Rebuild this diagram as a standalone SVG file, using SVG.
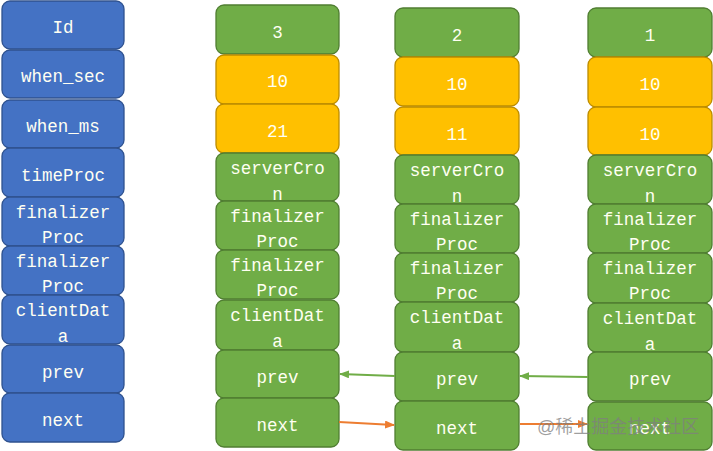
<svg xmlns="http://www.w3.org/2000/svg" width="713" height="451" viewBox="0 0 713 451">
<defs>
<style>
.b{fill:#4472C4;stroke:#2F528F;stroke-width:1.3}
.g{fill:#70AD47;stroke:#507E32;stroke-width:1.3}
.o{fill:#FFC000;stroke:#BC8C00;stroke-width:1.3}
text{font-family:"Liberation Mono","DejaVu Sans Mono",monospace;font-size:17.5px;fill:#FFFFF2;text-anchor:middle}
.ga{stroke:#70AD47;stroke-width:2;fill:none}
.oa{stroke:#ED7D31;stroke-width:2;fill:none}
.wm{font-family:"Liberation Sans","Noto Sans CJK SC",sans-serif;font-size:18px;fill:#7f7f7f;fill-opacity:0.75;text-anchor:start}
</style>
<marker id="mg" markerWidth="10" markerHeight="8" refX="9" refY="4" orient="auto" markerUnits="userSpaceOnUse"><path d="M0,0 L10,4 L0,8 Z" fill="#70AD47"/></marker>
<marker id="mo" markerWidth="10" markerHeight="8" refX="9" refY="4" orient="auto" markerUnits="userSpaceOnUse"><path d="M0,0 L10,4 L0,8 Z" fill="#ED7D31"/></marker>
</defs>
<rect width="713" height="451" fill="#FFFFFF"/>

<!-- Column 0 (blue, field names) -->
<g id="c0-id"><rect class="b" x="2" y="1" width="122" height="48" rx="8"/><text x="63" y="33">Id</text></g>
<g id="c0-when_sec"><rect class="b" x="2" y="50" width="122" height="48" rx="8"/><text x="63" y="82">when_sec</text></g>
<g id="c0-when_ms"><rect class="b" x="2" y="100" width="122" height="48" rx="8"/><text x="63" y="132">when_ms</text></g>
<g id="c0-timeProc"><rect class="b" x="2" y="148" width="122" height="49" rx="8"/><text x="63" y="181">timeProc</text></g>
<g id="c0-finalizer1"><rect class="b" x="2" y="197" width="122" height="49" rx="8"/><text x="63" y="218">finalizer</text><text x="63" y="243">Proc</text></g>
<g id="c0-finalizer2"><rect class="b" x="2" y="246" width="122" height="49" rx="8"/><text x="63" y="267">finalizer</text><text x="63" y="292">Proc</text></g>
<g id="c0-clientData"><rect class="b" x="2" y="295" width="122" height="49" rx="8"/><text x="63" y="316">clientDat</text><text x="63" y="342">a</text></g>
<g id="c0-prev"><rect class="b" x="2" y="345" width="122" height="48" rx="8"/><text x="63" y="378">prev</text></g>
<g id="c0-next"><rect class="b" x="2" y="393" width="122" height="49" rx="8"/><text x="63" y="426">next</text></g>

<!-- Column 1 (event 3) -->
<g id="c1-id"><rect class="g" x="216" y="5" width="123" height="49" rx="8"/><text x="277.5" y="38">3</text></g>
<g id="c1-when_sec"><rect class="o" x="216" y="55" width="123" height="49" rx="8"/><text x="277.5" y="87">10</text></g>
<g id="c1-when_ms"><rect class="o" x="216" y="104" width="123" height="49" rx="8"/><text x="277.5" y="137">21</text></g>
<g id="c1-timeProc"><rect class="g" x="216" y="153" width="123" height="48" rx="8"/><text x="277.5" y="174">serverCro</text><text x="277.5" y="200">n</text></g>
<g id="c1-finalizer1"><rect class="g" x="216" y="201" width="123" height="49" rx="8"/><text x="277.5" y="222">finalizer</text><text x="277.5" y="247">Proc</text></g>
<g id="c1-finalizer2"><rect class="g" x="216" y="250" width="123" height="49" rx="8"/><text x="277.5" y="271">finalizer</text><text x="277.5" y="296">Proc</text></g>
<g id="c1-clientData"><rect class="g" x="216" y="300" width="123" height="50" rx="8"/><text x="277.5" y="321">clientDat</text><text x="277.5" y="347">a</text></g>
<g id="c1-prev"><rect class="g" x="216" y="350" width="123" height="48" rx="8"/><text x="277.5" y="383">prev</text></g>
<g id="c1-next"><rect class="g" x="216" y="398" width="123" height="49" rx="8"/><text x="277.5" y="431">next</text></g>

<!-- Column 2 (event 2) -->
<g id="c2-id"><rect class="g" x="395" y="8" width="124" height="49" rx="8"/><text x="457" y="41">2</text></g>
<g id="c2-when_sec"><rect class="o" x="395" y="57" width="124" height="49" rx="8"/><text x="457" y="90">10</text></g>
<g id="c2-when_ms"><rect class="o" x="395" y="107" width="124" height="48" rx="8"/><text x="457" y="140">11</text></g>
<g id="c2-timeProc"><rect class="g" x="395" y="155" width="124" height="49" rx="8"/><text x="457" y="176">serverCro</text><text x="457" y="202">n</text></g>
<g id="c2-finalizer1"><rect class="g" x="395" y="204" width="124" height="49" rx="8"/><text x="457" y="225">finalizer</text><text x="457" y="250">Proc</text></g>
<g id="c2-finalizer2"><rect class="g" x="395" y="253" width="124" height="49" rx="8"/><text x="457" y="274">finalizer</text><text x="457" y="299">Proc</text></g>
<g id="c2-clientData"><rect class="g" x="395" y="302" width="124" height="50" rx="8"/><text x="457" y="323">clientDat</text><text x="457" y="349">a</text></g>
<g id="c2-prev"><rect class="g" x="395" y="352" width="124" height="49" rx="8"/><text x="457" y="385">prev</text></g>
<g id="c2-next"><rect class="g" x="395" y="401" width="124" height="49" rx="8"/><text x="457" y="434">next</text></g>

<!-- Column 3 (event 1) -->
<g id="c3-id"><rect class="g" x="588" y="8" width="124" height="49" rx="8"/><text x="650" y="41">1</text></g>
<g id="c3-when_sec"><rect class="o" x="588" y="57" width="124" height="50" rx="8"/><text x="650" y="90">10</text></g>
<g id="c3-when_ms"><rect class="o" x="588" y="107" width="124" height="48" rx="8"/><text x="650" y="140">10</text></g>
<g id="c3-timeProc"><rect class="g" x="588" y="155" width="124" height="49" rx="8"/><text x="650" y="176">serverCro</text><text x="650" y="202">n</text></g>
<g id="c3-finalizer1"><rect class="g" x="588" y="204" width="124" height="49" rx="8"/><text x="650" y="225">finalizer</text><text x="650" y="250">Proc</text></g>
<g id="c3-finalizer2"><rect class="g" x="588" y="253" width="124" height="50" rx="8"/><text x="650" y="274">finalizer</text><text x="650" y="299">Proc</text></g>
<g id="c3-clientData"><rect class="g" x="588" y="303" width="124" height="49" rx="8"/><text x="650" y="324">clientDat</text><text x="650" y="350">a</text></g>
<g id="c3-prev"><rect class="g" x="588" y="352" width="124" height="49" rx="8"/><text x="650" y="385">prev</text></g>
<g id="c3-next"><rect class="g" x="588" y="402" width="124" height="48" rx="8"/><text x="650" y="434">next</text></g>

<!-- Connectors -->
<g id="connectors">
<line class="ga" x1="395" y1="376" x2="340" y2="374" marker-end="url(#mg)"/>
<line class="ga" x1="588" y1="377" x2="520" y2="376" marker-end="url(#mg)"/>
<line class="oa" x1="339" y1="422" x2="394" y2="425" marker-end="url(#mo)"/>
<line class="oa" x1="520" y1="424" x2="587" y2="424" marker-end="url(#mo)"/>
</g>

<text class="wm" x="537" y="433">@稀土掘金技术社区</text>
</svg>
